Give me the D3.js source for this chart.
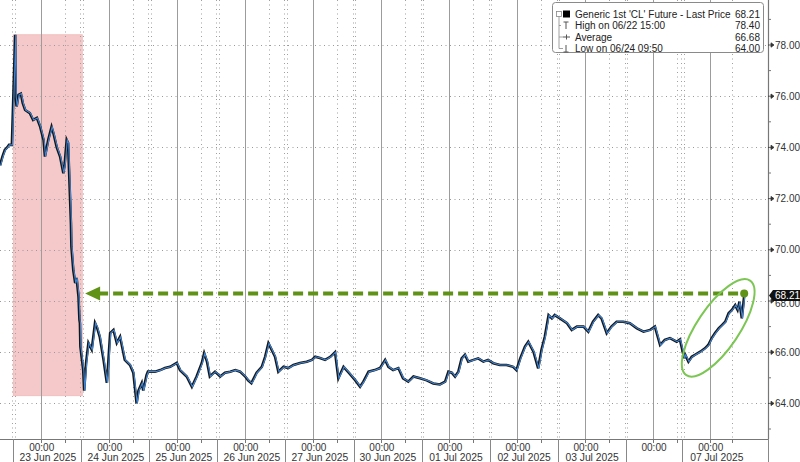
<!DOCTYPE html>
<html><head><meta charset="utf-8">
<script src="https://cdn.jsdelivr.net/npm/d3@7"></script>
<style>body{margin:0;background:#fff;} svg{display:block;font-family:"Liberation Sans",Arial,sans-serif;}</style>
</head><body><svg id="chart" width="800" height="462"></svg>
<script>
// ---------- DATA ----------
const priceTimes = ["06/20 09:40","06/20 10:30","06/20 11:20","06/20 12:10","06/20 12:50","06/20 13:50",
"06/22 15:00","06/22 15:10","06/22 15:30","06/22 16:10","06/22 17:00","06/22 17:40","06/22 18:30","06/22 20:10","06/22 21:20","06/22 22:40","06/22 23:50",
"06/23 01:00","06/23 01:30","06/23 02:40","06/23 03:50","06/23 04:30","06/23 05:40","06/23 06:50","06/23 08:00","06/23 08:30","06/23 09:10","06/23 09:40","06/23 10:00","06/23 10:20","06/23 10:40","06/23 10:50","06/23 11:30","06/23 12:10","06/23 12:40","06/23 13:20","06/23 13:40","06/23 13:50","06/23 14:00",
"06/23 15:00","06/23 15:20","06/23 16:00","06/23 16:50","06/23 18:00","06/23 19:10","06/23 19:50","06/23 20:50","06/23 22:10","06/23 23:20","06/23 23:50",
"06/24 00:30","06/24 01:40","06/24 02:50","06/24 04:00","06/24 05:40","06/24 07:30","06/24 08:40","06/24 09:50","06/24 10:30","06/24 11:40","06/24 12:10","06/24 13:20","06/24 13:50","06/24 16:20","06/24 18:10","06/24 19:50","06/24 21:40",
"06/25 00:00","06/25 01:10","06/25 03:30","06/25 05:20","06/25 07:00","06/25 08:50","06/25 09:40","06/25 10:40","06/25 11:40","06/25 13:30","06/25 15:20","06/25 17:00","06/25 18:50","06/25 20:40","06/25 22:20",
"06/26 00:10","06/26 01:10","06/26 02:20","06/26 04:10","06/26 06:00","06/26 07:10","06/26 08:20","06/26 09:30","06/26 10:40","06/26 11:50","06/26 13:40","06/26 15:20","06/26 17:10","06/26 19:30","06/26 21:50","06/26 23:40",
"06/27 00:50","06/27 02:30","06/27 04:20","06/27 06:10","06/27 07:50","06/27 09:00","06/27 10:50","06/27 12:40",
"06/29 15:00","06/29 16:40","06/29 17:50","06/29 19:40","06/29 21:50","06/29 23:40",
"06/30 01:30","06/30 02:40","06/30 04:20","06/30 06:10","06/30 07:50","06/30 09:40","06/30 11:30","06/30 13:50","06/30 16:10","06/30 18:30","06/30 20:50","06/30 22:40","06/30 23:50",
"07/01 01:00","07/01 02:10","07/01 03:20","07/01 04:30","07/01 05:40","07/01 06:50","07/01 08:40","07/01 10:20","07/01 12:10","07/01 13:50","07/01 15:40","07/01 18:00","07/01 20:20","07/01 22:40","07/01 23:50",
"07/02 01:10","07/02 02:50","07/02 04:00","07/02 05:50","07/02 07:30","07/02 08:40","07/02 09:50","07/02 11:10","07/02 12:20","07/02 13:20","07/02 15:10","07/02 17:40","07/02 19:20","07/02 21:10","07/02 23:30",
"07/03 01:10","07/03 02:50","07/03 04:40","07/03 05:50","07/03 07:40","07/03 09:20","07/03 11:10","07/03 13:30","07/03 15:50","07/03 18:20","07/03 20:40","07/03 23:00",
"07/04 00:40","07/04 02:30","07/04 04:10","07/04 06:00","07/04 08:20","07/04 09:30",
"07/06 15:00","07/06 15:20","07/06 16:30","07/06 17:40","07/06 18:50","07/06 20:40","07/06 22:20","07/06 23:30",
"07/07 00:40","07/07 01:50","07/07 03:10","07/07 04:20","07/07 05:30","07/07 06:40","07/07 07:50","07/07 09:00","07/07 09:50","07/07 10:30","07/07 11:20","07/07 11:50","07/07 12:10"];

const priceClose = [73.30,73.64,73.90,74.00,74.10,74.10,
78.40,75.98,75.60,76.05,76.10,75.73,75.46,75.34,75.07,75.15,74.80,
74.29,73.64,74.30,74.80,74.55,74.00,73.64,72.99,73.40,74.29,74.17,73.10,72.07,71.04,70.12,69.20,68.70,68.90,68.17,67.26,67.14,66.22,
65.30,64.50,65.57,66.36,66.10,67.14,66.98,66.60,65.70,64.80,65.58,
66.75,66.87,66.36,66.60,65.70,65.50,65.20,64.00,64.50,64.80,64.50,65.10,65.24,65.24,65.30,65.38,65.43,
65.58,65.30,65.05,64.65,65.05,65.58,65.96,65.63,65.05,65.24,65.05,65.20,65.24,65.30,65.24,
65.05,64.90,64.79,65.20,65.43,65.82,66.35,66.09,65.82,65.24,65.43,65.38,65.50,65.58,65.63,65.70,
65.82,65.77,65.70,65.82,66.00,64.98,65.43,65.20,
64.90,64.65,64.85,65.24,65.30,65.38,
65.70,65.43,65.30,65.38,64.98,64.85,65.05,64.98,64.90,64.78,64.74,64.85,65.24,
65.20,65.05,65.24,65.76,65.90,65.63,65.70,65.76,65.63,65.70,65.57,65.50,65.50,65.43,65.30,
65.76,66.22,66.41,66.02,65.37,66.09,66.60,67.45,67.32,67.45,67.32,67.13,66.87,67.00,67.00,
66.80,67.19,67.45,67.32,66.74,67.00,67.19,67.19,67.13,66.93,66.80,66.87,
67.00,66.28,66.48,66.55,66.41,66.50,
65.77,65.90,65.63,65.82,65.90,66.02,66.15,66.28,
66.54,66.74,66.93,67.06,67.19,67.52,67.65,67.84,67.65,67.97,67.32,67.84,68.21];

// trading-day index of each session date (weekends / holiday compressed)
const sessionIndex = {"06/20":-1,"06/22":-1,"06/23":0,"06/24":1,"06/25":2,"06/26":3,"06/27":4,"06/29":4,
  "06/30":5,"07/01":6,"07/02":7,"07/03":8,"07/04":9,"07/06":9-4/24,"07/07":9+20/24};

const midnightTimes = ["06/23 00:00","06/24 00:00","06/25 00:00","06/26 00:00","06/27 00:00","06/30 00:00","07/01 00:00","07/02 00:00","07/03 00:00","07/04 00:00","07/07 00:00"];
const dateLabels   = ["23 Jun 2025","24 Jun 2025","25 Jun 2025","26 Jun 2025","27 Jun 2025","30 Jun 2025","01 Jul 2025","02 Jul 2025","03 Jul 2025","","07 Jul 2025"];
const sessionBreaks = [["06/20 14:00","06/22 15:00"],["06/23 14:00","06/23 15:00"],["06/24 14:00","06/24 15:00"],["06/25 14:00","06/25 15:00"],["06/26 14:00","06/26 15:00"],["06/27 14:00","06/29 15:00"],["06/30 14:00","06/30 15:00"],["07/01 14:00","07/01 15:00"],["07/02 14:00","07/02 15:00"],["07/03 14:00","07/03 15:00"],["07/04 10:00","07/06 15:00"]];
const midSessionTimes = ["06/23 08:30","06/24 08:30","06/25 08:30","06/26 08:30","06/27 08:30","06/30 08:30","07/01 08:30","07/02 08:30","07/03 08:30","07/04 08:30","07/07 08:00"];

const yMajorTicks = [64,66,68,70,72,74,76,78];
const yMinorTicks = [63,65,67,69,71,73,75,77,79];

const legendLabels = ["Generic 1st 'CL' Future - Last Price","High on 06/22 15:00","Average","Low on 06/24 09:50"];
const legendValues = ["68.21","78.40","66.68","64.00"];
const lastPrice = 68.21;
const highlightRange = {start:"06/22 14:20", end:"06/23 14:40", top:78.40, bottom:64.30};
const arrowFrom = "06/23 15:40";
const circleCenter = {time:"07/07 03:00", value:66.95};

// ---------- HELPERS ----------
function tIndex(s){
  const [md, hm] = s.split(" ");
  const [h, m] = hm.split(":").map(Number);
  return sessionIndex[md] + (h + m/60)/24;
}

const svg = d3.select("#chart");
const W = 800, H = 462;
const axisX = 768, axisY = 439;

const x = d3.scaleLinear().domain([0, 9]).range([40.7, 653]);
const y = d3.scaleLinear().domain([64, 78]).range([403.4, 45]);

// highlight
svg.append("rect")
  .attr("x", x(tIndex(highlightRange.start)))
  .attr("y", y(highlightRange.top))
  .attr("width", x(tIndex(highlightRange.end)) - x(tIndex(highlightRange.start)))
  .attr("height", y(highlightRange.bottom) - y(highlightRange.top))
  .attr("fill", "#f5c9c9").attr("stroke","#f0b8b8").attr("stroke-width",0.8);

const grid = svg.append("g");
grid.selectAll("line.h").data(yMajorTicks).join("line")
  .attr("x1", 0).attr("x2", axisX)
  .attr("y1", d => Math.round(y(d))+0.5).attr("y2", d => Math.round(y(d))+0.5)
  .attr("stroke", "#9a9a9a").attr("stroke-width", 1).attr("stroke-dasharray", "1,3.5");
grid.selectAll("line.m").data(midnightTimes).join("line")
  .attr("x1", d => Math.round(x(tIndex(d)))+0.5).attr("x2", d => Math.round(x(tIndex(d)))+0.5)
  .attr("y1", 0).attr("y2", axisY)
  .attr("stroke", "#9c9c9c").attr("stroke-width", 1);
grid.selectAll("line.s").data(midSessionTimes).join("line")
  .attr("x1", d => Math.round(x(tIndex(d)))+0.5).attr("x2", d => Math.round(x(tIndex(d)))+0.5)
  .attr("y1", 0).attr("y2", axisY)
  .attr("stroke", "#a0a0a0").attr("stroke-width", 1).attr("stroke-dasharray", "1,3.5");
sessionBreaks.forEach(([a,b]) => {
  [a,b].forEach(tt => {
    const xx = Math.round(x(tIndex(tt)))+0.5;
    grid.append("line").attr("x1", xx).attr("x2", xx).attr("y1", 0).attr("y2", axisY)
      .attr("stroke", "#a0a0a0").attr("stroke-width", 1).attr("stroke-dasharray", "1,3.5");
  });
});

// price series
const pts = priceTimes.map((t,i) => [x(tIndex(t)), y(priceClose[i])]);
const line = d3.line().x(d => d[0]).y(d => d[1]);
svg.append("path").attr("d", line(pts)).attr("fill","none").attr("stroke","#161616").attr("stroke-width",2.6).attr("stroke-linejoin","miter");
svg.append("path").attr("d", line(pts.map(p=>[p[0]+0.6,p[1]]))).attr("fill","none").attr("stroke","#3f86d8").attr("stroke-width",1.1);

// green arrow
const green = "#5f9216";
const ay = y(lastPrice) - 2;
const ax0 = x(tIndex(arrowFrom));
const ax1 = x(tIndex(priceTimes[priceTimes.length-1]));
svg.append("line").attr("x1", ax0+13).attr("x2", ax1).attr("y1", ay).attr("y2", ay)
  .attr("stroke", green).attr("stroke-width", 4).attr("stroke-dasharray", "10,5");
svg.append("path").attr("d", `M${ax0},${ay} L${ax0+15},${ay-7} L${ax0+15},${ay+7} Z`).attr("fill", green);
svg.append("circle").attr("cx", ax1).attr("cy", ay).attr("r", 4).attr("fill", green);

// ellipse
svg.append("ellipse")
  .attr("cx", 0).attr("cy", 0).attr("rx", 57).attr("ry", 21)
  .attr("transform", `translate(${x(tIndex(circleCenter.time))},${y(circleCenter.value)}) rotate(-56)`)
  .attr("fill","none").attr("stroke","#7cc653").attr("stroke-width",2);

svg.append("rect").attr("x",0).attr("y",axisY).attr("width",W).attr("height",H-axisY).attr("fill","#fff");

// right axis
svg.append("line").attr("x1", axisX+0.5).attr("x2", axisX+0.5).attr("y1", 0).attr("y2", axisY).attr("stroke","#777").attr("stroke-width",1.2);
svg.selectAll("line.ymin").data(yMinorTicks).join("line")
  .attr("x1", axisX).attr("x2", axisX+3).attr("y1", d => y(d)).attr("y2", d => y(d)).attr("stroke","#777");
svg.selectAll("path.ymaj").data(yMajorTicks).join("path")
  .attr("d", d => `M${axisX},${y(d)} L${axisX+3},${y(d)} M${axisX+3},${y(d)-2.2} L${axisX+6},${y(d)} L${axisX+3},${y(d)+2.2} Z`)
  .attr("stroke","#333").attr("stroke-width",0.8).attr("fill","#333");
svg.selectAll("text.ylab").data(yMajorTicks.filter(d => d !== 68)).join("text")
  .attr("x", axisX+7).attr("y", d => y(d)+3.5)
  .attr("font-size", 10).attr("fill","#333").text(d => d3.format(".2f")(d));
// 68.00 label mostly hidden behind the last-price tag (as in the reference)
svg.append("text").attr("x", axisX+7).attr("y", y(68)+5.5).attr("font-size", 10).attr("fill","#333").text(d3.format(".2f")(68));

// last price tag
const ly = y(lastPrice);
svg.append("path").attr("d", `M${axisX+1},${ly} L${axisX+5},${ly-5.5} L${W},${ly-5.5} L${W},${ly+5.5} L${axisX+5},${ly+5.5} Z`).attr("fill","#111");
svg.append("text").attr("x", axisX+7).attr("y", ly+3.5).attr("font-size",10).attr("fill","#fff").text(d3.format(".2f")(lastPrice));

// bottom axis
svg.append("line").attr("x1",0).attr("x2",axisX+1).attr("y1",axisY+0.5).attr("y2",axisY+0.5).attr("stroke","#777").attr("stroke-width",1.2);
svg.selectAll("line.xt").data(midnightTimes.concat(midSessionTimes)).join("line")
  .attr("x1", d => Math.round(x(tIndex(d)))+0.5).attr("x2", d => Math.round(x(tIndex(d)))+0.5)
  .attr("y1", axisY).attr("y2", axisY+4).attr("stroke","#777");
svg.selectAll("line.xsep").data(sessionBreaks).join("line")
  .attr("x1", d => Math.round(x(tIndex(d[0])))+1.5).attr("x2", d => Math.round(x(tIndex(d[0])))+1.5)
  .attr("y1", axisY).attr("y2", H).attr("stroke","#888");
svg.append("line").attr("x1",axisX+0.5).attr("x2",axisX+0.5).attr("y1",axisY).attr("y2",H).attr("stroke","#888");
svg.selectAll("text.xt").data(midnightTimes).join("text")
  .attr("x", d => x(tIndex(d))+1).attr("y", 451).attr("text-anchor","middle")
  .attr("font-size", 10).attr("fill","#333").text("00:00");
svg.selectAll("text.xd").data(midnightTimes).join("text")
  .attr("x", d => x(tIndex(d) + 2.5/24)).attr("y", 461).attr("text-anchor","middle")
  .attr("font-size", 10.3).attr("fill","#333").text((d,i) => dateLabels[i]);

// legend
const lg = svg.append("g");
lg.append("rect").attr("x",552.5).attr("y",2.5).attr("width",211).attr("height",50).attr("rx",3)
  .attr("fill","#fff").attr("stroke","#8a8a8a");
const rowsY = [14, 25.5, 37, 48.5];
legendLabels.forEach((lab,i) => {
  lg.append("text").attr("x",575).attr("y",rowsY[i]+3.5).attr("font-size",10).attr("fill","#222").text(lab);
  lg.append("text").attr("x",760).attr("y",rowsY[i]+3.5).attr("text-anchor","end").attr("font-size",10).attr("fill","#222").text(legendValues[i]);
});
lg.append("rect").attr("x",556.5).attr("y",rowsY[0]-2.5).attr("width",5).attr("height",5).attr("fill","none").attr("stroke","#888").attr("stroke-width",0.8);
lg.append("rect").attr("x",563).attr("y",rowsY[0]-3.5).attr("width",7).attr("height",7).attr("fill","#000");
lg.append("path").attr("d",`M559,${rowsY[0]+2.5} L559,${rowsY[3]} L563,${rowsY[3]} M559,${rowsY[1]} L561,${rowsY[1]} M559,${rowsY[2]} L563,${rowsY[2]}`).attr("stroke","#888").attr("fill","none").attr("stroke-width",0.8);
lg.append("path").attr("d",`M563.5,${rowsY[1]-3.5} L568.5,${rowsY[1]-3.5} M566,${rowsY[1]-3.5} L566,${rowsY[1]+3.5}`).attr("stroke","#555").attr("fill","none");
lg.append("path").attr("d",`M563,${rowsY[2]} L570,${rowsY[2]} M566.5,${rowsY[2]-2.5} L566.5,${rowsY[2]+2.5}`).attr("stroke","#555").attr("fill","none");
lg.append("path").attr("d",`M563.5,${rowsY[3]+3.5} L568.5,${rowsY[3]+3.5} M566,${rowsY[3]-3.5} L566,${rowsY[3]+3.5}`).attr("stroke","#555").attr("fill","none");
</script></body></html>
